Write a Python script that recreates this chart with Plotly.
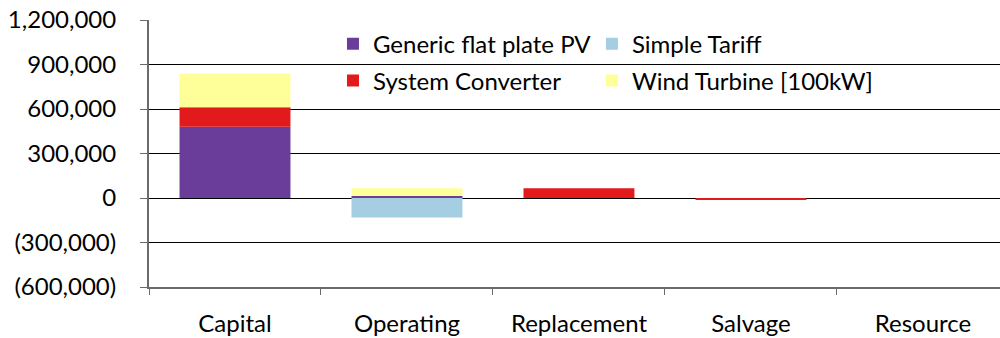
import plotly.graph_objects as go

categories = ["Capital", "Operating", "Replacement", "Salvage", "Resource"]

pv_values = [481000, 13000, 0, 0, 0]
tariff_values = [0, -131000, 0, 0, 0]
converter_values = [131000, 0, 65000, -14000, 0]
wind_values = [228000, 52000, 0, 0, 0]

y_tick_values = [1200000, 900000, 600000, 300000, 0, -300000, -600000]
y_tick_labels = ["1,200,000", "900,000", "600,000", "300,000", "0", "(300,000)", "(600,000)"]

series = [
    ("Generic flat plate PV", pv_values, "#6A3D9A", "legend"),
    ("Simple Tariff", tariff_values, "#A6CEE3", "legend2"),
    ("System Converter", converter_values, "#E31A1C", "legend3"),
    ("Wind Turbine [100kW]", wind_values, "#FFFF99", "legend4"),
]

FONT = "Lato"
SIZE = 24

fig = go.Figure()
for name, vals, color, leg in series:
    fig.add_trace(go.Bar(
        x=categories, y=vals, name=name, legend=leg, showlegend=True,
        marker=dict(color=color, line=dict(width=0)),
    ))

legend_common = dict(
    font=dict(family=FONT, size=SIZE, color="#000000"),
    bgcolor="rgba(0,0,0,0)", borderwidth=0,
    xanchor="left", yanchor="middle",
    itemclick=False, itemdoubleclick=False,
)

col1, col2 = 0.2162, 0.5205
row1, row2 = 0.910, 0.7715

fig.update_layout(
    width=1000, height=338,
    margin=dict(l=149, r=0, t=20, b=51, autoexpand=False),
    paper_bgcolor="white", plot_bgcolor="white",
    showlegend=True,
    barmode="relative", bargap=0.355,
    font=dict(family=FONT, size=SIZE, color="#000000"),
    legend=dict(x=col1, y=row1, visible=True, **legend_common),
    legend2=dict(x=col2, y=row1, **legend_common),
    legend3=dict(x=col1, y=row2, **legend_common),
    legend4=dict(x=col2, y=row2, **legend_common),
    xaxis=dict(
        range=[-0.5, 4.448], showgrid=False,
        showline=True, linecolor="#6b6b6b", linewidth=2,
        ticks="outside", tickson="boundaries", ticklen=6,
        tickcolor="#6b6b6b", tickwidth=1,
        ticklabelstandoff=14,
        tickfont=dict(family=FONT, size=SIZE, color="#000000"),
    ),
    yaxis=dict(
        range=[-600000, 1200000],
        tickvals=y_tick_values, ticktext=y_tick_labels,
        showgrid=True, gridcolor="#000000", gridwidth=1,
        zeroline=True, zerolinecolor="#000000", zerolinewidth=1,
        showline=True, linecolor="#6b6b6b", linewidth=2,
        ticks="outside", ticklen=7, tickcolor="#6b6b6b", tickwidth=1,
        ticklabelstandoff=19,
        tickfont=dict(family=FONT, size=SIZE, color="#000000"),
    ),
)

fig.write_html("out.html")
